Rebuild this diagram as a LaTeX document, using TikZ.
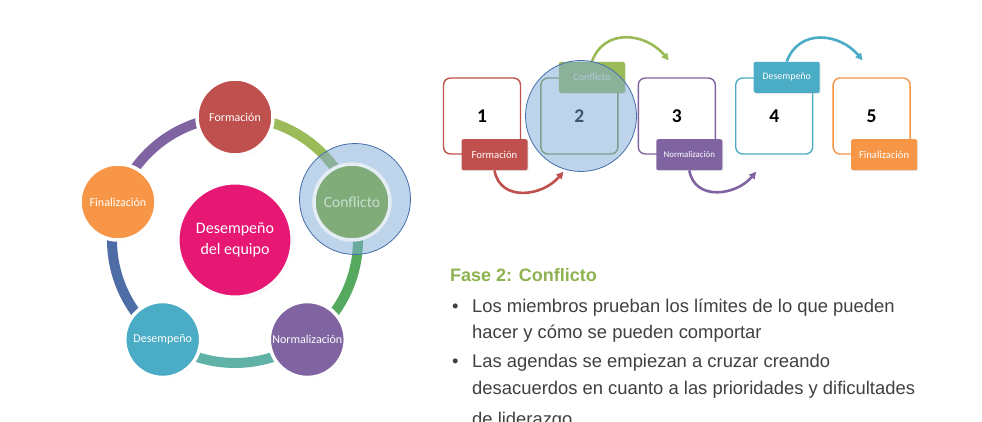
\documentclass[tikz,border=0pt]{standalone}
\usepackage{fontspec}
\setmainfont{Liberation Sans}
\newfontfamily\calibri{Carlito}
\usepackage{tikz}
\usetikzlibrary{arrows.meta, positioning, calc, shadows}
\definecolor{fred}{RGB}{192,80,77}
\definecolor{fgreen}{RGB}{155,187,89}
\definecolor{fmuted}{RGB}{128,172,122}
\definecolor{fpurple}{RGB}{128,100,162}
\definecolor{fteal}{RGB}{75,172,198}
\definecolor{forange}{RGB}{247,150,70}
\definecolor{fpink}{RGB}{230,24,116}
\definecolor{seggreen}{RGB}{85,170,95}
\definecolor{segteal}{RGB}{95,178,165}
\definecolor{segslate}{RGB}{78,108,165}
\definecolor{hlblue}{RGB}{125,170,217}
\definecolor{hledge}{RGB}{70,110,170}
\definecolor{textgray}{RGB}{64,64,64}
\definecolor{headgreen}{RGB}{141,179,80}

\begin{document}
\begin{tikzpicture}[
      x=1pt, y=1pt,
      stage/.style={circle, draw=white, line width=3.5pt, minimum size=76pt, inner sep=0pt, text=white, align=center, font=\calibri\fontsize{12}{14}\selectfont, drop shadow={opacity=0.25, shadow xshift=1pt, shadow yshift=-1.5pt}},
      ring/.style={line width=10pt},
      hilite/.style={circle, draw=hledge, line width=0.8pt, fill=hlblue, fill opacity=0.5, minimum size=111pt, inner sep=0pt},
      phase/.style={draw, rounded corners=7pt, line width=1.4pt, minimum width=77pt, minimum height=76pt, inner sep=0pt, font=\calibri\bfseries\fontsize{19.5}{22}\selectfont},
      tag/.style={rounded corners=2pt, minimum width=66pt, minimum height=31pt, inner sep=0pt, text=white, font=\calibri\fontsize{10.6}{12}\selectfont, drop shadow={opacity=0.2, shadow xshift=1pt, shadow yshift=-1pt}},
      hop/.style={-{Triangle[length=7pt,width=7pt]}, line width=2.6pt},
      line/.style={anchor=base west, inner sep=0pt, text=textgray, font=\fontsize{18.4}{27}\selectfont},
    ]
    \clip (0,0) rectangle (982,421);
    \fill[white] (0,0) rectangle (982,421);

    % cycle of stages
    \coordinate (ctr) at (235,181);
    \draw[ring, fgreen] ($(ctr)+(90:123)$) arc[start angle=90, end angle=18, radius=123];
    \draw[ring, seggreen] ($(ctr)+(18:123)$) arc[start angle=18, end angle=-54, radius=123];
    \draw[ring, segteal] ($(ctr)+(-54:123)$) arc[start angle=-54, end angle=-126, radius=123];
    \draw[ring, segslate] ($(ctr)+(-126:123)$) arc[start angle=-126, end angle=-198, radius=123];
    \draw[ring, fpurple] ($(ctr)+(162:123)$) arc[start angle=162, end angle=90, radius=123];

    \node[stage, fill=fpink, minimum size=114pt, line width=3pt, font=\calibri\fontsize{16}{21}\selectfont] (team) at (ctr) {Desempeño\\del equipo};
    \node[stage, fill=fred] (form) at ($(ctr)+(90:123)$) {Formación};
    \node[hilite] (focus) at (355,222) {};
    \node[stage, fill=fmuted, draw={rgb,255:red,228;green,236;blue,244}, text={rgb,255:red,200;green,222;blue,205}, font=\calibri\fontsize{15.5}{18}\selectfont] (confl) at ($(ctr)+(18:123)$) {Conflicto};
    \node[stage, fill=fpurple] (norm) at ($(ctr)+(-54:123)$) {Normalización};
    \node[stage, fill=fteal] (perf) at ($(ctr)+(-126:123)$) {Desempeño};
    \node[stage, fill=forange] (fin) at ($(ctr)+(162:123)$) {Finalización};

    % row of phases
    \node[phase, draw=fred] (b1) at (482,305) {1};
    \node[phase, draw=fgreen!80!black, right=19pt of b1] (b2) {2};
    \node[phase, draw=fpurple, right=19pt of b2] (b3) {3};
    \node[phase, draw=fteal, right=19pt of b3] (b4) {4};
    \node[phase, draw=forange, right=19pt of b4] (b5) {5};

    \node[tag, fill=fred] (t1) at ([xshift=12.5pt]b1.south) {Formación};
    \node[tag, fill=fgreen, text={rgb,255:red,225;green,235;blue,220}, font=\calibri\fontsize{10.3}{12}\selectfont] (t2) at ([xshift=12.5pt]b2.north) {Conflicto};
    \node[tag, fill=fpurple, font=\calibri\fontsize{8.8}{10}\selectfont] (t3) at ([xshift=12.5pt]b3.south) {Normalización};
    \node[tag, fill=fteal, font=\calibri\fontsize{9.9}{12}\selectfont] (t4) at ([xshift=12.5pt]b4.north) {Desempeño};
    \node[tag, fill=forange] (t5) at ([xshift=12.5pt]b5.south) {Finalización};

    \coordinate (e1) at ([xshift=-16pt, yshift=-17pt]b2.south);
    \coordinate (e2) at ([xshift=-8pt, yshift=17pt]b3.north);
    \coordinate (e3) at ([xshift=-18pt, yshift=-17pt]b4.south);
    \coordinate (e4) at ([xshift=-9pt, yshift=17pt]b5.north);
    \draw[hop, fred] (t1.south) to[out=-80, in=-130, looseness=1.2] (e1);
    \draw[hop, fgreen] (t2.north) to[out=70, in=130, looseness=1.2] (e2);
    \draw[hop, fpurple] (t3.south) to[out=-80, in=-130, looseness=1.2] (e3);
    \draw[hop, fteal] (t4.north) to[out=70, in=130, looseness=1.2] (e4);

    \node[hilite] (mark) at (581,305) {};

    % description of phase 2
    \node[line, text=headgreen, font=\bfseries\fontsize{18}{22}\selectfont] (head) at (450,140) {Fase 2: Conflicto};
    \node[line] (dot1) at (452,109) {\textbullet};
    \node[line] (l1) at (472,109) {Los miembros prueban los límites de lo que pueden};
    \node[line] (l2) at (472,83) {hacer y cómo se pueden comportar};
    \node[line] (dot2) at (452,54) {\textbullet};
    \node[line] (l3) at (472,54) {Las agendas se empiezan a cruzar creando};
    \node[line] (l4) at (472,27) {desacuerdos en cuanto a las prioridades y dificultades};
    \node[line] (l5) at (472,-4) {de liderazgo};
  \end{tikzpicture}
\end{document}
